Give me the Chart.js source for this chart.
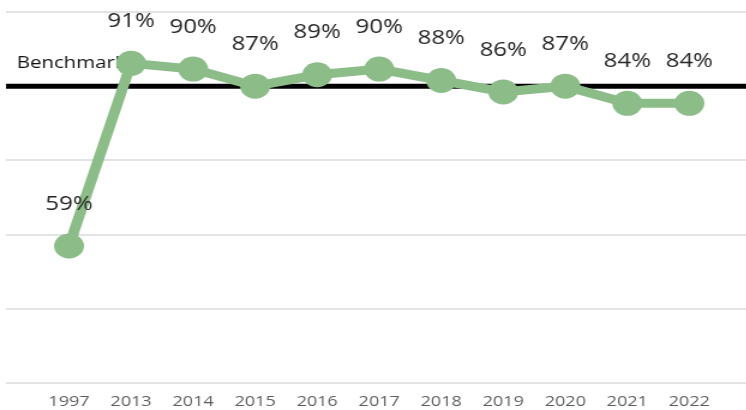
<!DOCTYPE html>
<html>
<head>
<meta charset="utf-8">
<script src="https://cdn.jsdelivr.net/npm/chart.js"></script>
<style>
  html, body { margin: 0; padding: 0; background: #fff; overflow: hidden; }
  /* reference is slightly stretched horizontally */
  #wrap { width: 622px; height: 410px; transform: scaleX(1.2); transform-origin: 0 0; }
</style>
</head>
<body>
<div id="wrap"><canvas id="myChart"></canvas></div>
<script>
const years = ['1997', '2013', '2014', '2015', '2016', '2017', '2018', '2019', '2020', '2021', '2022'];
const scores = [0.59, 0.91, 0.90, 0.87, 0.89, 0.90, 0.88, 0.86, 0.87, 0.84, 0.84];
const benchmark = 0.87;
const benchmarkLabel = 'Benchmark';

const green = '#8cbd88';

// benchmark line + text, under the series
const benchmarkPlugin = {
  id: 'benchmark',
  beforeDatasetsDraw(chart) {
    const { ctx, chartArea } = chart;
    const y = chart.scales.y.getPixelForValue(benchmark);
    ctx.save();
    ctx.strokeStyle = '#000';
    ctx.lineWidth = 5;
    ctx.beginPath();
    ctx.moveTo(chartArea.left, y);
    ctx.lineTo(chartArea.right, y);
    ctx.stroke();
    ctx.fillStyle = '#111';
    ctx.font = '17px "Open Sans", sans-serif';
    ctx.textBaseline = 'middle';
    ctx.fillText(benchmarkLabel, 14, y - 23);
    ctx.restore();
  }
};

// percent labels above each point
const labelPlugin = {
  id: 'pctLabels',
  afterDatasetsDraw(chart) {
    const { ctx } = chart;
    const meta = chart.getDatasetMeta(0);
    ctx.save();
    ctx.fillStyle = '#252423';
    ctx.font = '20px "Open Sans", sans-serif';
    ctx.textAlign = 'center';
    ctx.textBaseline = 'middle';
    meta.data.forEach((pt, i) => {
      ctx.fillText(Math.round(scores[i] * 100) + '%', pt.x, pt.y - 42);
    });
    ctx.restore();
  }
};

const ctx = document.getElementById('myChart').getContext('2d');
const myChart = new Chart(ctx, {
  type: 'line',
  data: {
    datasets: [{
      data: scores.map((v, i) => ({ x: i, y: v })),
      borderColor: green,
      backgroundColor: green,
      borderWidth: 9,
      pointRadius: 12.5,
      pointHoverRadius: 12.5,
      pointBorderWidth: 0,
      tension: 0,
      clip: false
    }]
  },
  options: {
    responsive: true,
    maintainAspectRatio: false,
    animation: false,
    layout: { autoPadding: false, padding: { left: 5, right: 0, top: 12, bottom: 0 } },
    plugins: {
      legend: { display: false },
      tooltip: { enabled: false }
    },
    scales: {
      x: {
        type: 'linear',
        min: -1.016,
        max: 10.92,
        grid: { display: false, drawTicks: false },
        border: { display: false },
        afterBuildTicks: (s) => { s.ticks = years.map((y, i) => ({ value: i })); },
        afterFit: (s) => {
          s.height = 27;
          s.paddingLeft = 0;
          s.paddingRight = 0;
        },
        ticks: {
          autoSkip: false,
          maxRotation: 0,
          padding: 10,
          color: '#605e5c',
          font: { family: '"Open Sans", sans-serif', size: 15 },
          callback: (v) => years[v]
        }
      },
      y: {
        min: 0.35,
        max: 1.0,
        grid: { color: '#e3e3e3', lineWidth: 2, drawTicks: false },
        border: { display: false },
        afterFit: (s) => { s.width = 0; },
        ticks: { display: false, stepSize: 0.13 }
      }
    }
  },
  plugins: [benchmarkPlugin, labelPlugin]
});
</script>
</body>
</html>
